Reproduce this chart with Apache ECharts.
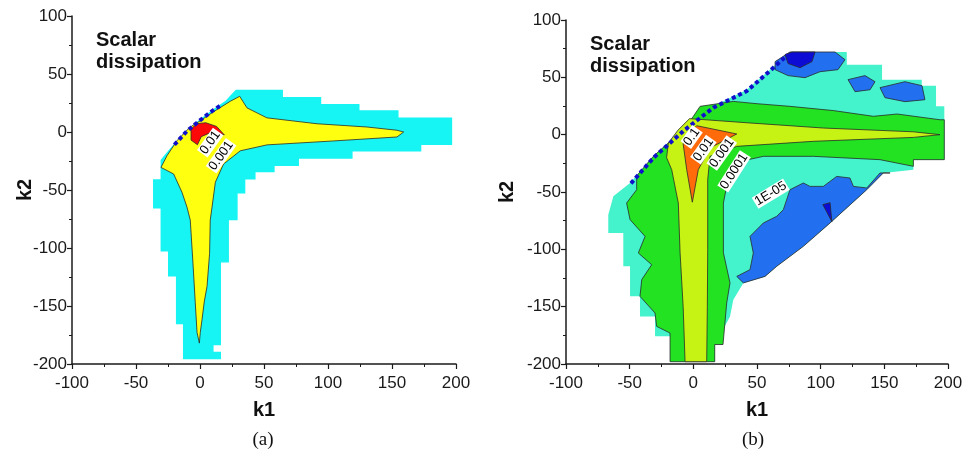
<!DOCTYPE html>
<html><head><meta charset="utf-8">
<script src="https://cdn.jsdelivr.net/npm/echarts@6/dist/echarts.min.js"></script>
<style>html,body{margin:0;padding:0;background:#fff}#c{width:968px;height:457px}</style>
</head><body><div id="c"></div>
<script>
// ---------- data (k1, k2) ----------
const axisMinK1 = -100, axisMaxK1 = 200, axisMinK2 = -200, axisMaxK2 = 100, tickStep = 50;

// panel (a)
const aOuter = [[31.5,36.5],[64.8,36.5],[64.8,30.2],[94.7,30.2],[94.7,24.2],[124.6,24.2],[124.6,18.8],[155.1,18.8],[155.1,12.6],[197,12.6],[197,-11.1],[172.9,-11.1],[172.9,-16.8],[119.2,-16.8],[119.2,-23.1],[77.3,-23.1],[77.3,-29.3],[58.3,-29.3],[58.3,-34.8],[43.4,-34.8],[43.4,-41],[35.4,-41],[35.4,-53],[29.4,-53],[29.4,-76],[22.6,-76],[22.6,-112.5],[16.4,-112.5],[16.4,-183.8],[10.6,-183.8],[10.6,-189.5],[16.4,-189.5],[16.4,-196],[-13.3,-196],[-13.3,-165.8],[-18.8,-165.8],[-18.8,-124.5],[-25,-124.5],[-25,-103],[-30.8,-103],[-30.8,-66],[-36.7,-66],[-36.7,-40.8],[-30.8,-40.8],[-30.8,-24.2],[-27,-19],[-20,-10],[-10,2],[0,11],[10,19.5],[20,27],[25,33],[28,36.5]];
const aEdge = [[-20,-11],[-10,1],[0,10],[10,18.5],[17,23.5]];
const aLevel1 = [[31,30.8],[36.7,20.8],[52.3,12.2],[91.4,7.1],[130.5,4.3],[153.9,1.5],[159.1,0],[153.9,-4.3],[104.4,-7.7],[52.3,-11.1],[31.5,-16.2],[18.4,-27.6],[12,-43.3],[9.4,-64.7],[8,-76],[7.5,-104.5],[5.5,-133],[3.4,-145.9],[1.6,-161.5],[0.2,-173],[-0.5,-182],[-2.3,-173],[-3.7,-147],[-5.5,-113],[-7.6,-76],[-10.2,-64.7],[-14.1,-51.9],[-20.6,-36.2],[-30.5,-30.5],[-25.8,-20.5],[-18,-7.5],[-8,4],[0,9.5],[10.6,17.5],[23.7,26.5]];
const aLevel2 = [[-7,2.5],[-2.5,7.2],[4.5,8],[13,4.8],[19,-2.5],[10,0.3],[1,-4],[-2,-11],[-7,-7]];
const aLabels = [['0.01',8,-9.1],['0.001',16.5,-20.5]];

// panel (b)
const bOuter = [[77.3,72.1],[120.5,72.1],[120.5,61],[148.2,61],[148.2,48],[179.4,48],[179.4,42.7],[190.6,42.7],[190.6,24.7],[197.1,24.7],[197.1,-21.8],[172.8,-21.8],[172.8,-30.5],[149.2,-33.4],[136.2,-48],[107.4,-77],[86.4,-97.4],[65.5,-114.8],[56.3,-123.6],[39.3,-129.3],[31.4,-143.9],[28.8,-158.5],[23.3,-170],[23.3,-183],[16.8,-183],[16.8,-198],[-18.3,-198],[-18.3,-175.9],[-30.1,-175.9],[-30.1,-158.5],[-41.9,-158.5],[-41.9,-141],[-49.7,-141],[-49.7,-114.8],[-55,-114.8],[-55,-85.7],[-66.8,-85.7],[-66.8,-69.8],[-62.8,-53.8],[-49.7,-42.1],[-31.4,-18.9],[-7.9,4.4],[15.7,24.7],[41.9,39.2],[60.2,56.7],[70.7,66.9]];
const bEdge = [[-49,-42.5],[-31,-19.8],[-7.5,3.5],[15.7,23.5],[41.9,38],[60,55.5],[74,69.5]];
const bBlueTop = [[64.2,63.7],[75.9,72.1],[111.3,72.1],[119.1,65.4],[113.6,56.7],[99.5,54.9],[87.7,49.7],[74.4,51.5],[64.2,56.7]];
const bBlueB = [[121.5,48],[134.8,51.5],[142.7,46.2],[138.8,39.2],[127,37.5]];
const bBlueC = [[146.6,41],[166.2,46.2],[179.6,42.7],[181.9,30.5],[166.2,28.8],[150.5,32.3]];
const bBlueLow = [[34.1,-123.6],[44.5,-117.7],[47.1,-103.2],[44.5,-88.7],[55,-77],[65.5,-71.2],[70.7,-65.4],[75.9,-48],[86.4,-42.1],[91.6,-45.1],[102.1,-45.1],[112.6,-36.4],[123,-37.8],[125.7,-45.1],[136.2,-46.5],[146.6,-33.4],[154.5,-33.4],[149.2,-33.4],[136.2,-48],[107.4,-77],[86.4,-97.4],[65.5,-114.8],[56.3,-123.6],[39.3,-129.3]];
const bDarkTop = [[72,69.8],[77.5,72.1],[95.6,72.1],[93.2,63.7],[83.8,58.4],[74.4,62]];
const bDarkLow = [[101.7,-61],[107.4,-59.3],[108.8,-75.9]];
const bLevel3 = [[-18.3,-198],[16.8,-198],[16.8,-183],[23.3,-183],[26.2,-146.8],[28.8,-129.3],[23.6,-103],[23.6,-59.6],[26.2,-45],[31.4,-24.7],[55,-18.9],[94.2,-18.9],[146.6,-21.8],[172.8,-27.6],[172.8,-21.8],[197.1,-21.8],[197.1,13],[193.7,13],[160,18],[141.4,16],[110,21],[75.9,24.7],[50,27],[31.4,29],[5.3,24.7],[0,16],[-7.9,4.4],[-31.4,-18.9],[-44.5,-36],[-44.5,-48],[-52.4,-59.6],[-49.7,-74.1],[-37.9,-88.7],[-43.2,-103.2],[-32.7,-113.4],[-40.5,-126.4],[-41.9,-141],[-30.1,-155.5],[-28.8,-167.2],[-18.3,-173]];
const bLevel2 = [[-6.5,-198],[10.5,-198],[11,-150],[11.3,-100],[11.3,-39.2],[13.1,-18.9],[34.1,-10.2],[94.2,-5.8],[172.8,-2.4],[193.7,0],[172.8,2.5],[102.1,5.8],[44.5,10.2],[-3,14],[-12,4],[-19.6,-7.2],[-21,-20],[-17,-30.5],[-11.8,-59.6],[-10.4,-103],[-8,-150]];
const bLevel1 = [[-6.5,-1.5],[2.7,7.8],[34.1,0.6],[13.1,-11.6],[3.9,-30.5],[-0.8,-58.9],[-5.2,-30.5],[-8,-8]];
const bLabels = [['0.1',-1.3,-2],['0.01',7.9,-13.1],['0.001',22.3,-16],['0.0001',32,-32],['1E-05',60.8,-51.5]];

const panelTitle = 'Scalar\ndissipation';
const captions = ['(a)', '(b)'];
const xName = 'k1', yName = 'k2';

// ---------- styles ----------
const C = {
  cyan: '#16f4f4', yellow: '#ffff10', red: '#ff0808', navy: '#1010cc',
  aqua: '#44f2cc', green: '#22e222', lime: '#c6f214', orange: '#ff6a0a',
  blue: '#2270f0', dark: '#0c0cd4', line: '#2a2a2a'
};
const labelRot = {'0.01': 0.95, '0.001': 0.95, '0.1': 0.95, '0.0001': 1.0, '1E-05': 0.55};

function poly(g, pts, fill, stroke) {
  return {
    type: 'custom', xAxisIndex: g, yAxisIndex: g, data: pts, silent: true, animation: false, clip: false,
    renderItem: (params, api) => {
      if (params.dataIndex !== 0) return;
      return { type: 'polygon', shape: { points: pts.map(p => api.coord(p)) },
        style: { fill: fill, stroke: stroke || null, lineWidth: stroke ? 0.8 : 0 } };
    }
  };
}
function edge(g, pts) {
  return {
    type: 'custom', xAxisIndex: g, yAxisIndex: g, data: pts, silent: true, animation: false, clip: false,
    renderItem: (params, api) => {
      if (params.dataIndex !== 0) return;
      return { type: 'polyline', shape: { points: pts.map(p => api.coord(p)) },
        style: { fill: null, stroke: C.navy, lineWidth: 4, lineDash: [4, 3] } };
    }
  };
}
function labels(g, arr) {
  return {
    type: 'custom', xAxisIndex: g, yAxisIndex: g, data: arr.map(a => [a[1], a[2]]), silent: true, animation: false, clip: false,
    renderItem: (params, api) => {
      const a = arr[params.dataIndex];
      const p = api.coord([a[1], a[2]]);
      return { type: 'text', x: p[0], y: p[1], rotation: labelRot[a[0]] || 0.9,
        style: { text: a[0], x: 0, y: 0, align: 'center', verticalAlign: 'middle', fill: '#000',
          font: '13px "Liberation Sans", Arial, sans-serif', backgroundColor: '#fff', padding: [0, 1] } };
    }
  };
}

function axisCommon() {
  return {
    type: 'value', interval: tickStep,
    axisLine: { show: true, onZero: false, lineStyle: { color: '#1a1a1a', width: 1.5 } },
    axisTick: { show: true, inside: false, length: 5, lineStyle: { color: '#1a1a1a', width: 1.2 } },
    minorTick: { show: true, splitNumber: 2, length: 3, lineStyle: { color: '#1a1a1a', width: 1 } },
    splitLine: { show: false },
    axisLabel: { fontSize: 17, color: '#1a1a1a', fontFamily: '"Liberation Sans", Arial, sans-serif' },
    nameLocation: 'middle',
    nameMoveOverlap: false,
    nameTextStyle: { fontSize: 20, fontWeight: 'bold', color: '#111', fontFamily: '"Liberation Sans", Arial, sans-serif' }
  };
}
function xAx(g) { return Object.assign(axisCommon(), { gridIndex: g, min: axisMinK1, max: axisMaxK1, name: xName, nameGap: 36,
  axisLabel: Object.assign(axisCommon().axisLabel, { margin: 11 }) }); }
function yAx(g, gap) { return Object.assign(axisCommon(), { gridIndex: g, min: axisMinK2, max: axisMaxK2, name: yName, nameGap: gap,
  axisLabel: Object.assign(axisCommon().axisLabel, { margin: 5 }) }); }

const chart = echarts.init(document.getElementById('c'), null, { renderer: 'canvas' });
chart.setOption({
  animation: false,
  backgroundColor: '#fff',
  grid: [
    { left: 72, top: 16, width: 384, height: 348 },
    { left: 566, top: 20, width: 382, height: 344 }
  ],
  xAxis: [xAx(0), xAx(1)],
  yAxis: [yAx(0, 37), yAx(1, 49)],
  graphic: [
    { type: 'text', left: 96, top: 29, style: { text: panelTitle, font: 'bold 20px "Liberation Sans", Arial, sans-serif', lineHeight: 22, fill: '#111' } },
    { type: 'text', left: 590, top: 33, style: { text: panelTitle, font: 'bold 20px "Liberation Sans", Arial, sans-serif', lineHeight: 22, fill: '#111' } },
    { type: 'text', x: 263, y: 440, style: { text: captions[0], align: 'center', verticalAlign: 'middle', font: '19px "Liberation Serif", "Times New Roman", serif', fill: '#111' } },
    { type: 'text', x: 753, y: 440, style: { text: captions[1], align: 'center', verticalAlign: 'middle', font: '19px "Liberation Serif", "Times New Roman", serif', fill: '#111' } }
  ],
  series: [
    poly(0, aOuter, C.cyan),
    poly(0, aLevel1, C.yellow, C.line),
    poly(0, aLevel2, C.red, C.line),
    edge(0, aEdge),
    labels(0, aLabels),

    poly(1, bOuter, C.aqua),
    poly(1, bBlueTop, C.blue, C.line),
    poly(1, bBlueB, C.blue, C.line),
    poly(1, bBlueC, C.blue, C.line),
    poly(1, bBlueLow, C.blue, C.line),
    poly(1, bDarkTop, C.dark, C.line),
    poly(1, bDarkLow, C.dark, C.line),
    poly(1, bLevel3, C.green, C.line),
    poly(1, bLevel2, C.lime, C.line),
    poly(1, bLevel1, C.orange, C.line),
    edge(1, bEdge),
    labels(1, bLabels)
  ]
});
</script>
</body></html>
